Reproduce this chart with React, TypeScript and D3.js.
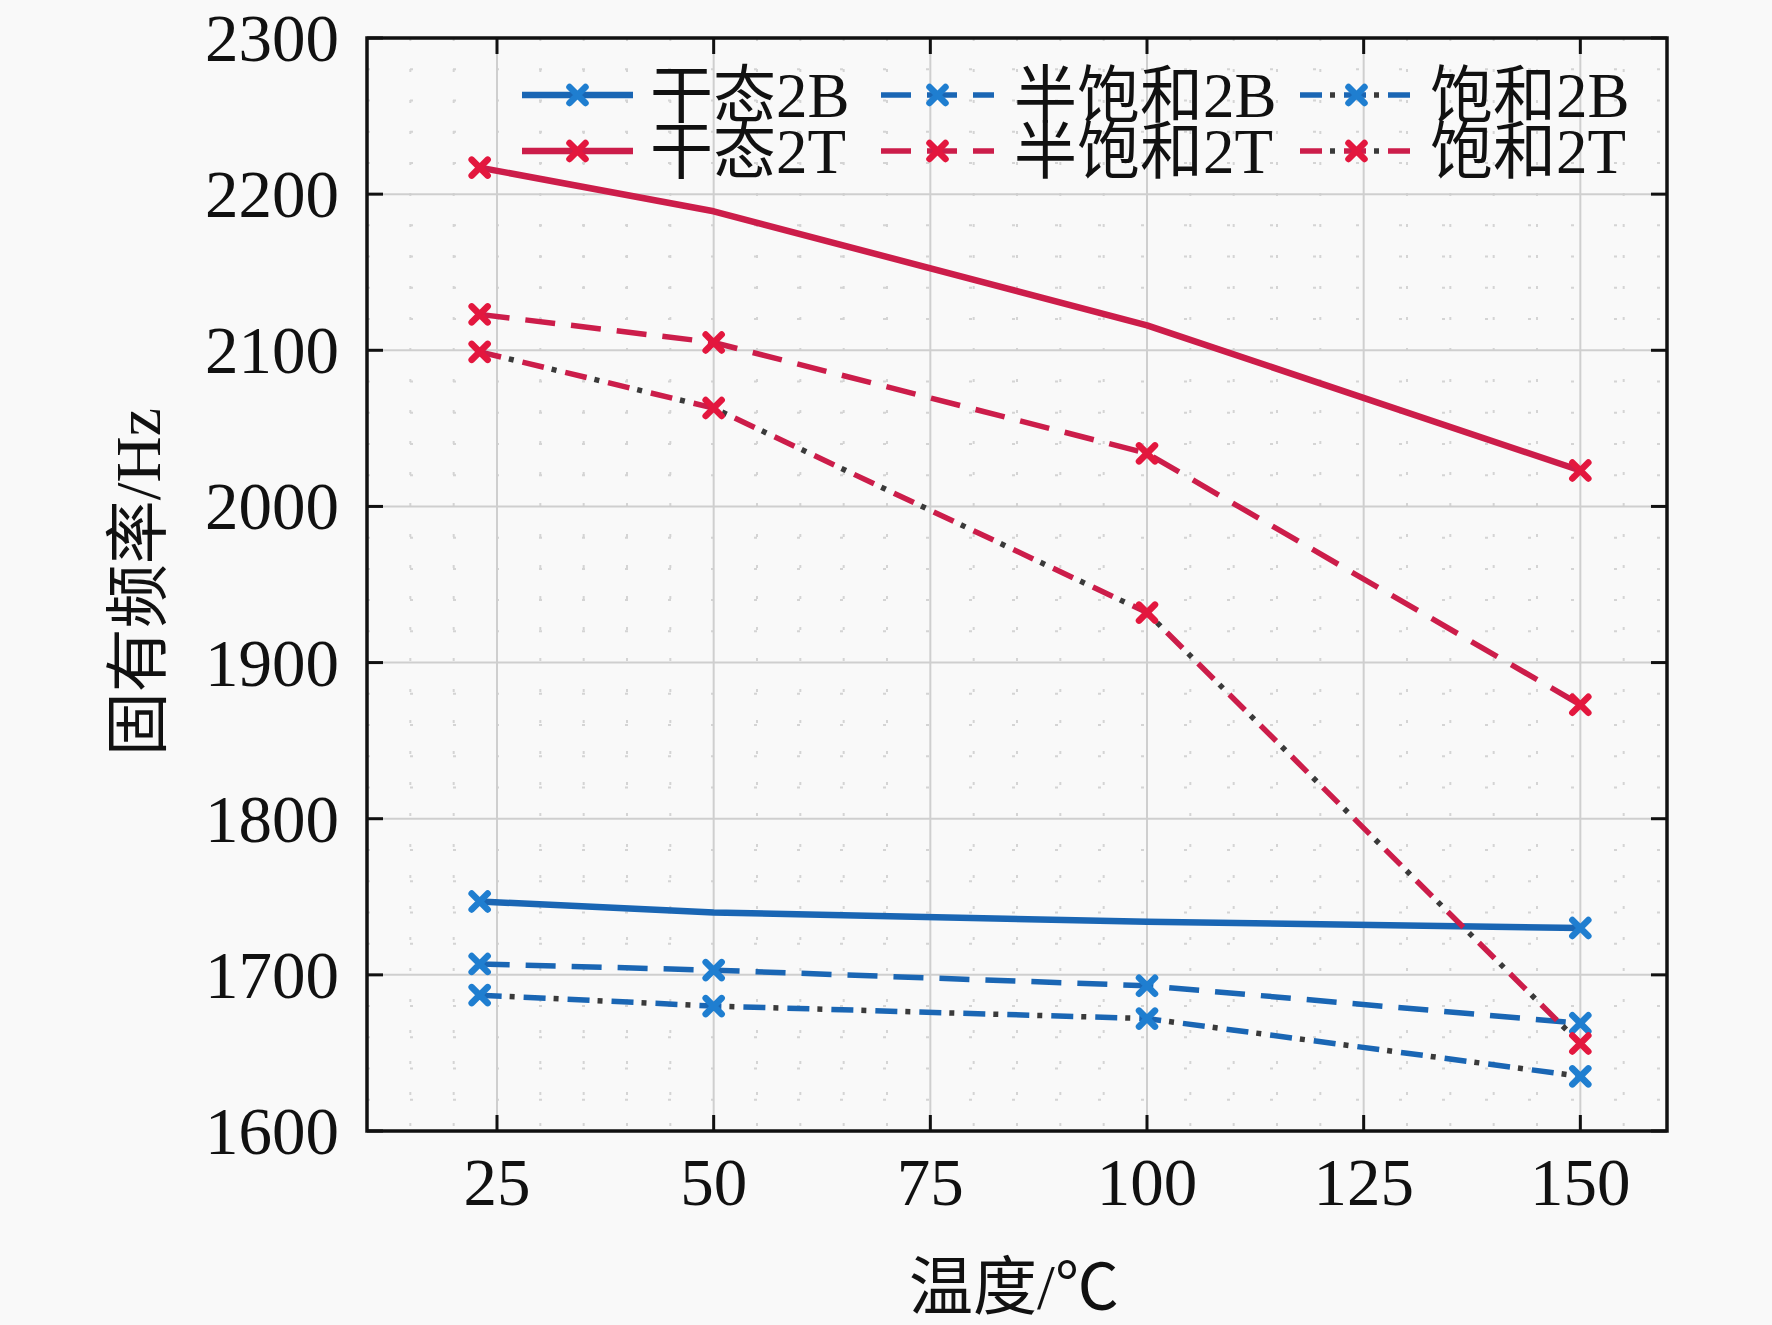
import React from "react";
import * as d3 from "d3";

const temps = [23, 50, 100, 150];
const dry2B = [1747, 1740, 1734, 1730];
const half2B = [1707, 1703, 1693, 1669];
const sat2B = [1687, 1680, 1672, 1635];
const dry2T = [2217, 2189, 2116, 2023];
const half2T = [2123, 2105, 2034, 1873];
const sat2T = [2099, 2063, 1932, 1656];

const xTicks = [25, 50, 75, 100, 125, 150];
const yTicks = [1600, 1700, 1800, 1900, 2000, 2100, 2200, 2300];

const BLUE = "#1a66b4";
const RED = "#cc1d4a";
const BLUE_M = "#1f7ed0";
const RED_M = "#e3173e";

type Style = "solid" | "dash" | "dashdot";
const series: { name: string; values: number[]; color: string; mcolor: string; style: Style; markers: number[]; col: number; row: number }[] = [
  { name: "干态2B", values: dry2B, color: BLUE, mcolor: BLUE_M, style: "solid", markers: [0, 3], col: 0, row: 0 },
  { name: "半饱和2B", values: half2B, color: BLUE, mcolor: BLUE_M, style: "dash", markers: [0, 1, 2, 3], col: 1, row: 0 },
  { name: "饱和2B", values: sat2B, color: BLUE, mcolor: BLUE_M, style: "dashdot", markers: [0, 1, 2, 3], col: 2, row: 0 },
  { name: "干态2T", values: dry2T, color: RED, mcolor: RED_M, style: "solid", markers: [0, 3], col: 0, row: 1 },
  { name: "半饱和2T", values: half2T, color: RED, mcolor: RED_M, style: "dash", markers: [0, 1, 2, 3], col: 1, row: 1 },
  { name: "饱和2T", values: sat2T, color: RED, mcolor: RED_M, style: "dashdot", markers: [0, 1, 2, 3], col: 2, row: 1 },
];

const W = 1772;
const H = 1325;
const L = 367, R = 1667, T = 38, B = 1131;
const FONT = "'Liberation Serif', 'Times New Roman', 'Noto Sans CJK SC', serif";

const x = d3.scaleLinear().domain([10, 160]).range([L, R]);
const y = d3.scaleLinear().domain([1600, 2300]).range([B, T]);

const line = d3.line<number>().x((_, i) => x(temps[i])).y((v) => y(v));

function Marker({ cx, cy, color }: { cx: number; cy: number; color: string }) {
  const s = 8;
  return (
    <path
      d={`M${cx - s},${cy - s}L${cx + s},${cy + s}M${cx - s},${cy + s}L${cx + s},${cy - s}`}
      stroke={color}
      strokeWidth={6.5}
      strokeLinecap="round"
      fill="none"
    />
  );
}

function StyledPath({ d, color, style, width }: { d: string; color: string; style: Style; width: number }) {
  if (style === "solid") return <path d={d} stroke={color} strokeWidth={width} fill="none" strokeLinejoin="round" />;
  if (style === "dash")
    return <path d={d} stroke={color} strokeWidth={width} fill="none" strokeDasharray="30 16" />;
  return (
    <g>
      <path d={d} stroke={color} strokeWidth={width} fill="none" strokeDasharray="22 22" />
      <path d={d} stroke="#3a3a3a" strokeWidth={width} fill="none" strokeDasharray="0 30 5 9" />
    </g>
  );
}

export default function App() {
  const minorX = d3.range(10, 160.01, 5).filter((v) => v % 25 !== 0);
  const minorY = d3.range(1600, 2300.01, 20).filter((v) => v % 100 !== 0);
  const legendCols = [
    { x1: 522, x2: 633, tx: 650 },
    { x1: 881, x2: 994, tx: 1014 },
    { x1: 1300, x2: 1413, tx: 1430 },
  ];
  const legendRows = [95, 151];
  return (
    <svg
      width={W}
      height={H}
      viewBox={`0 0 ${W} ${H}`}
      style={{ position: "absolute", left: 0, top: 0 }}
      fontFamily={FONT}
    >
      <rect x={0} y={0} width={W} height={H} fill="#f9f9f9" />
      {/* minor grid */}
      {minorX.map((v) => (
        <line key={"mx" + v} x1={x(v)} x2={x(v)} y1={T} y2={B} stroke="#d4d4d4" strokeWidth={2} strokeDasharray="3 28" />
      ))}
      {minorY.map((v) => (
        <line key={"my" + v} x1={L} x2={R} y1={y(v)} y2={y(v)} stroke="#d4d4d4" strokeWidth={2} strokeDasharray="3 40" />
      ))}
      {/* major grid */}
      {xTicks.map((v) => (
        <line key={"gx" + v} x1={x(v)} x2={x(v)} y1={T} y2={B} stroke="#cfcfcf" strokeWidth={2} />
      ))}
      {yTicks.slice(1, -1).map((v) => (
        <line key={"gy" + v} x1={L} x2={R} y1={y(v)} y2={y(v)} stroke="#cfcfcf" strokeWidth={2} />
      ))}
      {/* series */}
      {series.map((s) => (
        <g key={s.name}>
          <StyledPath d={line(s.values) || ""} color={s.color} style={s.style} width={s.style === "solid" ? 6.5 : 5.5} />
          {s.markers.map((i) => (
            <Marker key={i} cx={x(temps[i])} cy={y(s.values[i])} color={s.mcolor} />
          ))}
        </g>
      ))}
      {/* frame */}
      <rect x={L} y={T} width={R - L} height={B - T} fill="none" stroke="#111" strokeWidth={3.5} />
      {/* ticks */}
      {xTicks.map((v) => (
        <g key={"tx" + v}>
          <line x1={x(v)} x2={x(v)} y1={B} y2={B - 16} stroke="#111" strokeWidth={3} />
          <line x1={x(v)} x2={x(v)} y1={T} y2={T + 16} stroke="#111" strokeWidth={3} />
          <text x={x(v)} y={1205} textAnchor="middle" fontSize={67} fill="#111">
            {v}
          </text>
        </g>
      ))}
      {yTicks.map((v) => (
        <g key={"ty" + v}>
          <line x1={L} x2={L + 16} y1={y(v)} y2={y(v)} stroke="#111" strokeWidth={3} />
          <line x1={R} x2={R - 16} y1={y(v)} y2={y(v)} stroke="#111" strokeWidth={3} />
          <text x={339} y={y(v) + 23} textAnchor="end" fontSize={67} fill="#111">
            {v}
          </text>
        </g>
      ))}
      {/* axis titles */}
      <text x={1014} y={1309} textAnchor="middle" fontSize={64} fill="#111">
        温度/℃
      </text>
      <text transform="translate(160,582) rotate(-90)" textAnchor="middle" fontSize={64} fill="#111">
        固有频率/Hz
      </text>
      {/* legend */}
      {series.map((s) => {
        const c = legendCols[s.col];
        const ry = legendRows[s.row];
        const d = `M${c.x1},${ry}L${c.x2},${ry}`;
        return (
          <g key={"lg" + s.name}>
            <StyledPath d={d} color={s.color} style={s.style} width={s.style === "solid" ? 6.5 : 5.5} />
            <Marker cx={(c.x1 + c.x2) / 2} cy={ry} color={s.mcolor} />
            <text x={c.tx} y={ry + 22} fontSize={63} fill="#111">
              {s.name}
            </text>
          </g>
        );
      })}
    </svg>
  );
}
